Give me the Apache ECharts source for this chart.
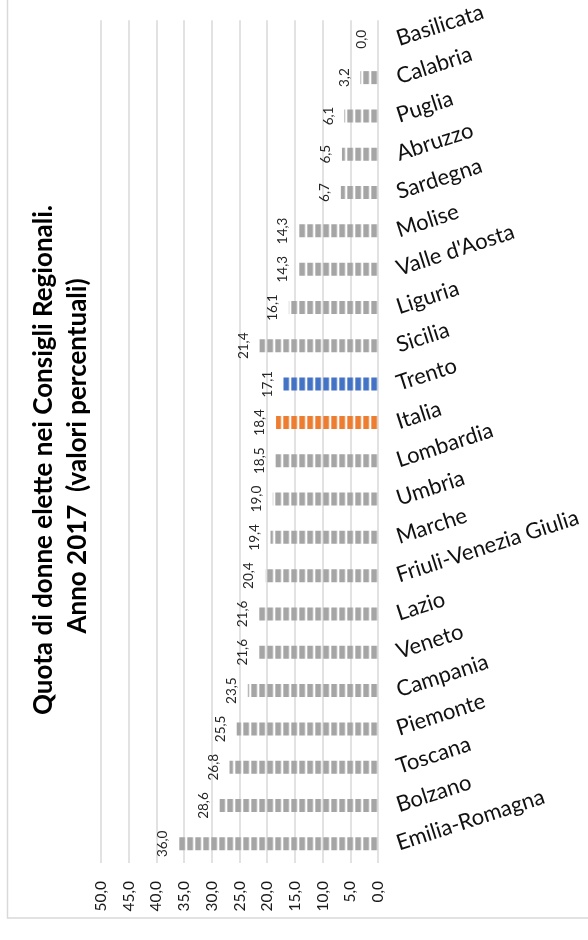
<!DOCTYPE html>
<html>
<head>
<meta charset="utf-8">
<script src="https://cdn.jsdelivr.net/npm/echarts@6/dist/echarts.min.js"></script>
<style>
html,body{margin:0;padding:0;background:#fff;}
#chart{width:588px;height:940px;}
</style>
</head>
<body>
<div id="chart"></div>
<script>
// ---- data ----
const categories = ['Emilia-Romagna','Bolzano','Toscana','Piemonte','Campania','Veneto','Lazio',
  'Friuli-Venezia Giulia','Marche','Umbria','Lombardia','Italia','Trento','Sicilia','Liguria',
  "Valle d'Aosta",'Molise','Sardegna','Abruzzo','Puglia','Calabria','Basilicata'];
const values = [36.0,28.6,26.8,25.5,23.5,21.6,21.6,20.4,19.4,19.0,18.5,18.4,17.1,21.4,16.1,14.3,14.3,6.7,6.5,6.1,3.2,0.0];
const axisMin = 0, axisMax = 50, axisStep = 5;
const titleLine1 = 'Quota di donne elette nei Consigli Regionali.';
const titleLine2 = 'Anno 2017  (valori percentuali)';

// ---- styles ----
const baseColor = '#A5A5A5';
const highlight = { 'Italia': '#ED7D31', 'Trento': '#4472C4' };
const FONT = 'Lato, "Open Sans", sans-serif';
const fmt = v => Number(v).toFixed(1).replace('.', ',');

function makePattern(color, offsetX) {
  const c = document.createElement('canvas');
  c.width = 8; c.height = 8;
  const ctx = c.getContext('2d');
  ctx.fillStyle = color;
  ctx.fillRect(0, 0, 5.7, 8);
  return { image: c, repeat: 'repeat', x: offsetX, y: 0 };
}

const chart = echarts.init(document.getElementById('chart'), null, { renderer: 'canvas' });

function buildData(offsetX) {
  return values.map((v, i) => ({
    value: v,
    itemStyle: { color: makePattern(highlight[categories[i]] || baseColor, offsetX) }
  }));
}

const option = {
  backgroundColor: '#fff',
  animation: false,
  grid: { left: 101, right: 210, top: 20, bottom: 77, containLabel: false },
  xAxis: {
    type: 'value', inverse: true, min: axisMin, max: axisMax, interval: axisStep,
    axisLine: { show: false }, axisTick: { show: false },
    splitLine: { show: true, lineStyle: { color: '#D9D9D9', width: 1.5 } },
    axisLabel: { rotate: 90, margin: 18, formatter: fmt, fontFamily: FONT, fontSize: 15.5, color: '#1a1a1a' }
  },
  yAxis: {
    type: 'category', position: 'right', data: categories,
    axisLine: { show: false }, axisTick: { show: false },
    axisLabel: { interval: 0, rotate: 18, margin: 19, fontFamily: FONT, fontSize: 22, color: '#111' }
  },
  series: [{
    type: 'bar', barWidth: 13,
    data: buildData(3.3),
    label: {
      show: true, position: 'left', distance: 9, rotate: 90,
      align: 'center', verticalAlign: 'bottom',
      formatter: p => fmt(p.value), fontFamily: FONT, fontSize: 13.5, color: '#262626'
    }
  }],
  graphic: [
    { type: 'rect', silent: true, z: -10,
      shape: { x: 7.5, y: -5, width: 600, height: 923 },
      style: { fill: 'none', stroke: '#D9D9D9', lineWidth: 1.5 } },
    { type: 'text', x: 44, y: 460, rotation: Math.PI / 2,
      style: { text: titleLine1, fontFamily: FONT, fontWeight: 'bold', fontSize: 26, fill: '#000', align: 'center', verticalAlign: 'middle' } },
    { type: 'text', x: 78, y: 456, rotation: Math.PI / 2,
      style: { text: titleLine2, fontFamily: FONT, fontWeight: 'bold', fontSize: 26, fill: '#000', align: 'center', verticalAlign: 'middle' } }
  ]
};
chart.setOption(option);

// align pattern segments to the zero line
const zeroX = chart.convertToPixel({ xAxisIndex: 0 }, 0);
const period = 8;
const off = (((zeroX - 1 - 5.7) % period) + period) % period;
chart.setOption({ series: [{ data: buildData(off) }] });
</script>
</body>
</html>
